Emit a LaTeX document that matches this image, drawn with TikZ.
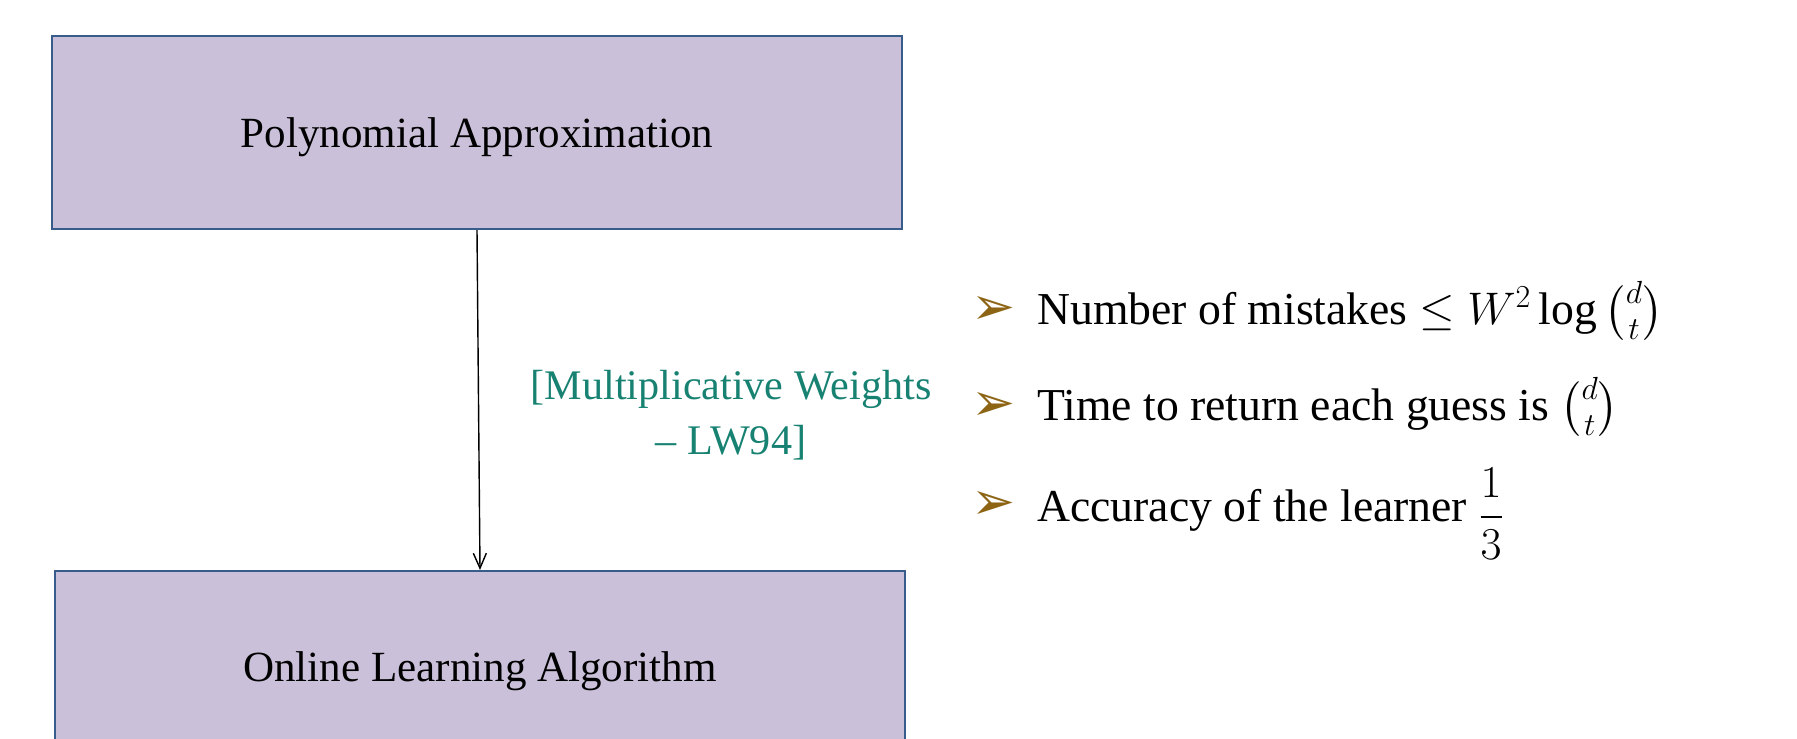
\RequirePackage{fix-cm}
\documentclass[tikz,border=0pt]{standalone}
\usepackage{amsmath,amssymb}
\usepackage{fontspec}
\setmainfont{Liberation Serif}
\newfontfamily\dingfont{DejaVu Sans}
\usetikzlibrary{positioning,arrows.meta}
\usepackage{xcolor}
\definecolor{boxfill}{RGB}{203,192,218}
\definecolor{boxline}{RGB}{56,93,138}
\definecolor{refteal}{RGB}{24,130,114}
\definecolor{bulletcol}{RGB}{140,100,20}

\begin{document}
\begin{tikzpicture}[x=0.02cm,y=-0.02cm,
    blk/.style={rectangle,draw=boxline,fill=boxfill,line width=1.4pt,minimum width=17.0cm,text depth=0pt,font=\fontsize{24.5}{30}\selectfont},
    itm/.style={anchor=west,font=\fontsize{26}{30}\selectfont},
    bul/.style={font=\dingfont\fontsize{30}{34}\selectfont,text=bulletcol},
    ptr/.style={-{Straight Barb[length=3mm,width=2.6mm]},line width=0.8pt}]

\useasboundingbox (0,0) rectangle (1797,739);
\clip (0,0) rectangle (1797,739);

% Boxes
\node[blk,minimum height=3.86cm] (poly) at (477,132.5) {Polynomial Approximation};
\node[blk,minimum height=3.8cm,anchor=north] (online) at (480,570) {Online Learning Algorithm};

% Reduction
\draw[ptr] (poly.south) -- (online.north);
\node[font=\fontsize{24}{31}\selectfont,text=refteal,align=center] (mw) at (731,415)
  {[Multiplicative Weights\\ -- LW94]};

% Guarantees
\node[bul] (b1) at (994,310) {➢};
\node[itm] (t1) at (1031,311) {Number of mistakes $\le W^2\log\tbinom{d}{t}$};
\node[bul] (b2) at (994,406) {➢};
\node[itm] (t2) at (1031,407) {Time to return each guess is $\tbinom{d}{t}$};
\node[bul] (b3) at (994,505) {➢};
\node[itm,anchor=base west] (t3) at (1031,521) {Accuracy of the learner \raisebox{-4pt}{$\dfrac{1}{3}$}};

\end{tikzpicture}
\end{document}
